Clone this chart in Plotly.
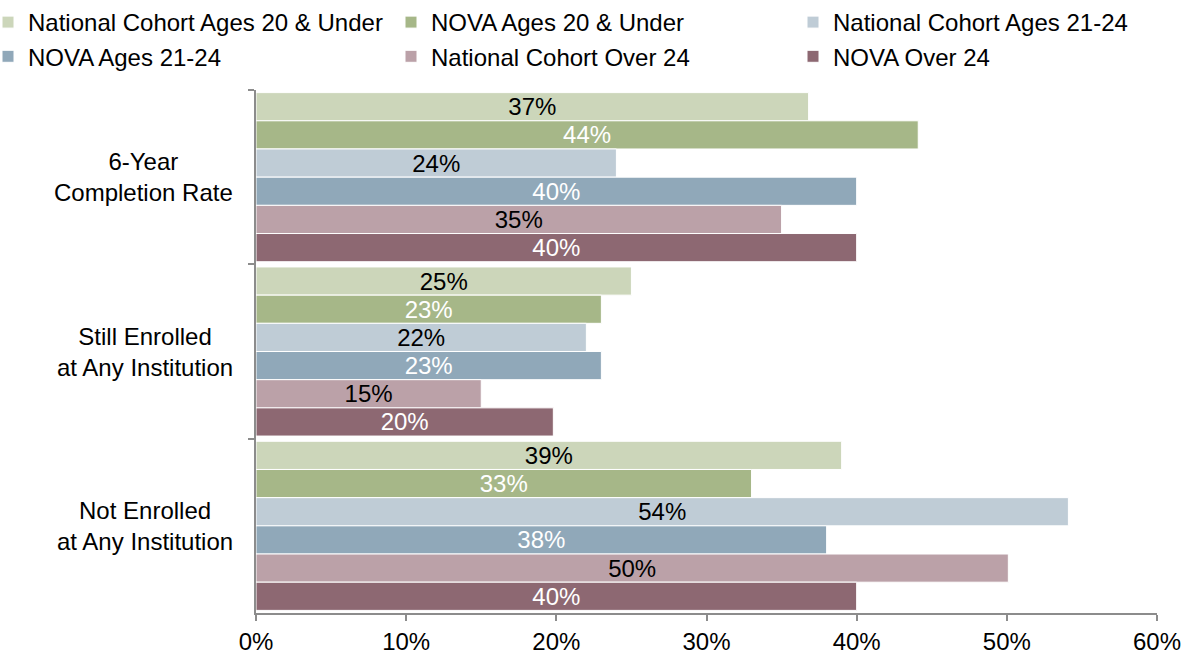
import plotly.graph_objects as go

categories = ["6-Year<br>Completion Rate", "Still Enrolled<br>at Any Institution", "Not Enrolled<br>at Any Institution"]
series_names = [
    "National Cohort Ages 20 & Under",
    "NOVA Ages 20 & Under",
    "National Cohort Ages 21-24",
    "NOVA Ages 21-24",
    "National Cohort Over 24",
    "NOVA Over 24",
]
nat_20_under = [0.368, 0.250, 0.390]
nova_20_under = [0.441, 0.230, 0.330]
nat_21_24 = [0.240, 0.220, 0.541]
nova_21_24 = [0.400, 0.230, 0.380]
nat_over_24 = [0.350, 0.150, 0.501]
nova_over_24 = [0.400, 0.198, 0.400]
series_values = [nat_20_under, nova_20_under, nat_21_24, nova_21_24, nat_over_24, nova_over_24]
x_ticks = [0, 0.1, 0.2, 0.3, 0.4, 0.5, 0.6]

colors = ["#CCD6BA", "#A6B788", "#BFCCD6", "#90A8B9", "#BBA1A8", "#8D6872"]
text_colors = ["black", "white", "black", "white", "black", "white"]

FONT = "Liberation Sans, Arial, sans-serif"
FS = 24
PLOT_L, PLOT_W = 256, 901

# legend columns: item i goes to column i % 3 (two rows, three columns)
legend_ids = ["legend", "legend2", "legend3"]
legend_left_px = [-12, 391, 793]

fig = go.Figure()
for i, (name, vals, c, tc) in enumerate(zip(series_names, series_values, colors, text_colors)):
    fig.add_trace(go.Bar(
        y=categories, x=vals, name=name, orientation="h",
        marker=dict(color=c, line=dict(color="white", width=1)),
        texttemplate="%{x:.0%}", textposition="inside", insidetextanchor="middle",
        textfont=dict(color=tc, size=FS, family=FONT),
        constraintext="none", cliponaxis=False,
        legend=legend_ids[i % 3],
    ))

for cat in categories:
    fig.add_annotation(
        x=-21 / PLOT_W, xref="paper", y=cat, yref="y", text=cat,
        showarrow=False, xanchor="right", align="center",
        font=dict(size=FS, family=FONT, color="black"),
    )

legend_common = dict(
    orientation="v", xref="paper", yref="container", y=1.013,
    xanchor="left", yanchor="top", itemwidth=30,
    font=dict(size=FS, family=FONT), traceorder="normal",
    bgcolor="rgba(0,0,0,0)",
)
legends = {lid: dict(legend_common, x=(px - PLOT_L) / PLOT_W) for lid, px in zip(legend_ids, legend_left_px)}

fig.update_layout(
    width=1185, height=655,
    margin=dict(l=PLOT_L, r=28, t=90, b=42, autoexpand=False),
    paper_bgcolor="white", plot_bgcolor="white",
    barmode="group", bargap=0.03, bargroupgap=0,
    font=dict(family=FONT, size=FS, color="black"),
    xaxis=dict(
        range=[0, 0.6], tickvals=x_ticks, tickformat=".0%",
        showgrid=False, zeroline=False, showline=True, linecolor="#8C8C8C", linewidth=1.5,
        ticks="outside", ticklen=6, tickcolor="#8C8C8C", tickwidth=1.5,
        tickfont=dict(size=FS, family=FONT),
    ),
    yaxis=dict(
        type="category", autorange="reversed", showticklabels=False,
        tickson="boundaries", ticks="outside", ticklen=6, tickcolor="#8C8C8C", tickwidth=1.5,
        showline=True, linecolor="#8C8C8C", linewidth=1.5, showgrid=False,
    ),
    **legends,
)

fig.write_html("out.html", config={"displayModeBar": False},
               post_script="document.body.style.margin='0';")
